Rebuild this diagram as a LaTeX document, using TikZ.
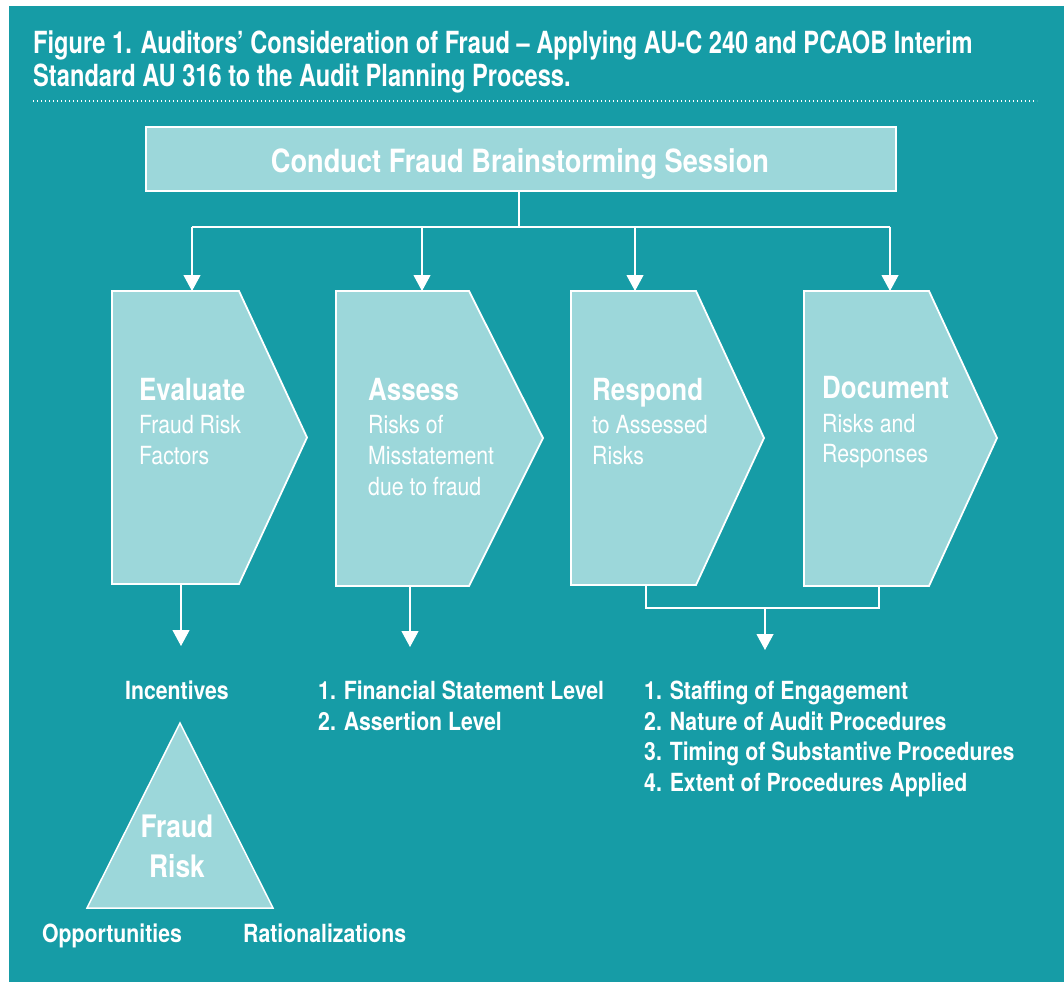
\documentclass[tikz,border=0pt]{standalone}
\usepackage{fontspec}
\setmainfont{TeX Gyre Heros}[FakeStretch=0.85]
\newfontfamily\titlefamily{TeX Gyre Heros}[FakeStretch=0.775]
\usetikzlibrary{arrows.meta}
\definecolor{teal}{RGB}{22,156,166}
\definecolor{paleteal}{RGB}{156,215,218}
\begin{document}
\begin{tikzpicture}[x=1pt,y=-1pt,
  txt/.style={text=white,inner sep=0pt,anchor=base west},
  ctxt/.style={text=white,inner sep=0pt,anchor=base},
  shapebox/.style={fill=paleteal,draw=white,line width=1.8pt},
  link/.style={draw=white,line width=1.1pt},
  arr/.style={link,-{Triangle[width=17pt,length=16pt]}},
  titlefont/.style={font=\titlefamily\bfseries\fontsize{30.5}{30.5}\selectfont},
  headfont/.style={font=\bfseries\fontsize{30.5}{30.5}\selectfont},
  bodyfont/.style={font=\fontsize{25}{25}\selectfont},
  listfont/.style={font=\bfseries\fontsize{25}{25}\selectfont}]
% page and panel
\useasboundingbox (0,0) rectangle (1064,982);
\fill[white] (0,0) rectangle (1064,982);
\fill[teal] (9,6) rectangle (1064,982);

% title
\node[txt,titlefont] (title1) at (33,54)
  {Figure 1. Auditors’ Consideration of Fraud – Applying AU-C 240 and PCAOB Interim};
\node[txt,titlefont] (title2) at (33,86)
  {Standard AU 316 to the Audit Planning Process.};
\draw[white,line width=1.2pt,dash pattern=on 1.4pt off 2.6pt] (33,101) -- (1037,101);

% brainstorming session box
\path[shapebox] (146,127) rectangle (896,191);
\node[ctxt,font=\bfseries\fontsize{32}{32}\selectfont] (session) at (520,172)
  {Conduct Fraud Brainstorming Session};
\coordinate (sessbot) at (519,191);
\coordinate (split) at (519,227);

% process pentagons
\path[shapebox] (112,291) -- (239,291) -- (307,437.5) -- (239,584) -- (112,584) -- cycle;
\path[shapebox] (336,291) -- (469,291) -- (543,438) -- (469,586) -- (336,586) -- cycle;
\path[shapebox] (571,291) -- (696,291) -- (764,438) -- (696,585) -- (571,585) -- cycle;
\path[shapebox] (804,291) -- (929,291) -- (997,438) -- (929,586) -- (804,586) -- cycle;

\coordinate (evtop) at (192,291);
\coordinate (astop) at (422,291);
\coordinate (retop) at (635,291);
\coordinate (dotop) at (890,291);
\coordinate (evbot) at (181,584);
\coordinate (asbot) at (410,586);
\coordinate (rebot) at (646,585);
\coordinate (dobot) at (879,586);

% pentagon texts
\node[txt,headfont] (ev1) at (139,400) {Evaluate};
\node[txt,bodyfont] (ev2) at (139,433) {Fraud Risk};
\node[txt,bodyfont] (ev3) at (139,464) {Factors};

\node[txt,headfont] (as1) at (368,400) {Assess};
\node[txt,bodyfont] (as2) at (368,433) {Risks of};
\node[txt,bodyfont] (as3) at (368,464) {Misstatement};
\node[txt,bodyfont] (as4) at (368,495) {due to fraud};

\node[txt,headfont] (re1) at (592,400) {Respond};
\node[txt,bodyfont] (re2) at (592,433) {to Assessed};
\node[txt,bodyfont] (re3) at (592,464) {Risks};

\node[txt,headfont] (do1) at (822,398) {Document};
\node[txt,bodyfont] (do2) at (822,432) {Risks and};
\node[txt,bodyfont] (do3) at (822,462) {Responses};

% connectors from the session box
\draw[link] (sessbot) -- (split);
\draw[link] (evtop |- split) -- (dotop |- split);
\draw[arr] (evtop |- split) -- (evtop);
\draw[arr] (astop |- split) -- (astop);
\draw[arr] (retop |- split) -- (retop);
\draw[arr] (dotop |- split) -- (dotop);

% connectors below the pentagons
\coordinate (evend) at (181,646);
\coordinate (asend) at (410,647);
\coordinate (join) at (765,608);
\coordinate (joinend) at (765,650);
\draw[arr] (evbot) -- (evend);
\draw[arr] (asbot) -- (asend);
\draw[link] (rebot) |- (join) -| (dobot);
\draw[arr] (join) -- (joinend);

% outcome lists
\node[ctxt,listfont] (incent) at (177,699) {Incentives};
\node[txt,listfont] (lvl1) at (318,699) {1. Financial Statement Level};
\node[txt,listfont] (lvl2) at (318,730) {2. Assertion Level};
\node[txt,listfont] (rsp1) at (644,699) {1. Staffing of Engagement};
\node[txt,listfont] (rsp2) at (644,730) {2. Nature of Audit Procedures};
\node[txt,listfont] (rsp3) at (644,760) {3. Timing of Substantive Procedures};
\node[txt,listfont] (rsp4) at (644,791) {4. Extent of Procedures Applied};

% fraud triangle
\path[shapebox,line width=1.5pt] (180,723) -- (273,908) -- (87,908) -- cycle;
\node[ctxt,font=\bfseries\fontsize{31}{31}\selectfont] (fr1) at (177,837) {Fraud};
\node[ctxt,font=\bfseries\fontsize{31}{31}\selectfont] (fr2) at (177,877) {Risk};
\node[txt,listfont] (opp) at (42,942) {Opportunities};
\node[txt,listfont] (rat) at (243,942) {Rationalizations};
\end{tikzpicture}
\end{document}
